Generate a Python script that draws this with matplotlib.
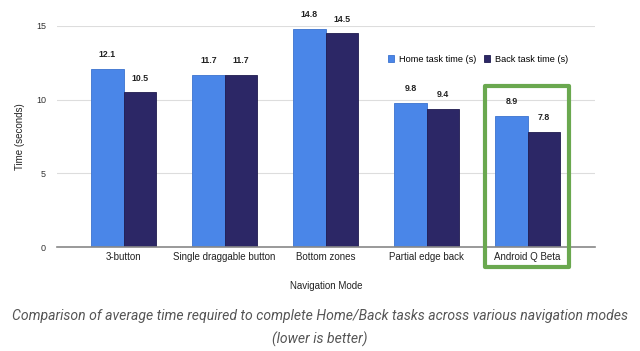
import matplotlib.pyplot as plt
import numpy as np
from matplotlib.patches import Rectangle

modes = ["3-button", "Single draggable button", "Bottom zones", "Partial edge back", "Android Q Beta"]
home_times = [12.1, 11.7, 14.8, 9.8, 8.9]
back_times = [10.5, 11.7, 14.5, 9.4, 7.8]

home_color = "#4a86e8"
back_color = "#2c2766"

plt.rcParams['font.family'] = ['Liberation Sans', 'DejaVu Sans']

fig = plt.figure(figsize=(6.4, 3.51), dpi=100)
ax = fig.add_axes([0.089, 0.296, 0.841, 0.630])

x = np.arange(len(modes))
w = 0.32
b1 = ax.bar(x - w / 2, home_times, w, color=home_color, edgecolor="#3b73cf", linewidth=0.6,
            label="Home task time (s)", zorder=3)
b2 = ax.bar(x + w / 2, back_times, w, color=back_color, edgecolor="#1f1b4f", linewidth=0.6,
            label="Back task time (s)", zorder=3)

for bars in (b1, b2):
    for rect in bars:
        h = rect.get_height()
        ax.annotate(f"{h:.1f}", (rect.get_x() + rect.get_width() / 2, h),
                    xytext=(0, 7), textcoords="offset points", ha="center", va="bottom",
                    fontsize=6.3, fontweight="bold", color="#222222")

ax.set_xlim(-0.66, 4.67)
ax.set_ylim(0, 15)
ax.set_yticks([0, 5, 10, 15])
ax.yaxis.grid(True, color="#dddddd", linewidth=0.8, zorder=0)
ax.tick_params(axis="both", length=0, labelsize=6.5, labelcolor="#333333")
ax.tick_params(axis="y", pad=8)
ax.set_xticks(x)
ax.set_xticklabels(modes, fontsize=7, color="#222222")
for s in ["top", "right", "left"]:
    ax.spines[s].set_visible(False)
ax.spines["bottom"].set_color("#888888")
ax.spines["bottom"].set_linewidth(1.2)
ax.spines["bottom"].set_zorder(4)

ax.set_ylabel("Time (seconds)", fontsize=7, color="#222222", labelpad=8)
ax.set_xlabel("Navigation Mode", fontsize=7, color="#222222", labelpad=14)

ax.legend(loc="center left", bbox_to_anchor=(0.615, 0.849), ncol=2, frameon=False,
          fontsize=6.6, handlelength=0.7, handleheight=0.7, columnspacing=0.9,
          handletextpad=0.45, borderpad=0, borderaxespad=0)

# highlight box around the last group
box = Rectangle((3.582, -0.0905), 0.832, 0.819, transform=ax.get_xaxis_transform(),
                fill=False, edgecolor="#6aa84f", linewidth=3, joinstyle="round",
                clip_on=False, zorder=5)
ax.add_patch(box)

fig.text(0.5, 0.099, "Comparison of average time required to complete Home/Back tasks across various navigation modes",
         ha="center", va="center", fontsize=10.1, style="italic", color="#555555",
         family=["Roboto", "DejaVu Sans"])
fig.text(0.5, 0.034, "(lower is better)", ha="center", va="center", fontsize=10.1,
         style="italic", color="#555555", family=["Roboto", "DejaVu Sans"])

fig.savefig("out.png", dpi=100, facecolor="white")
